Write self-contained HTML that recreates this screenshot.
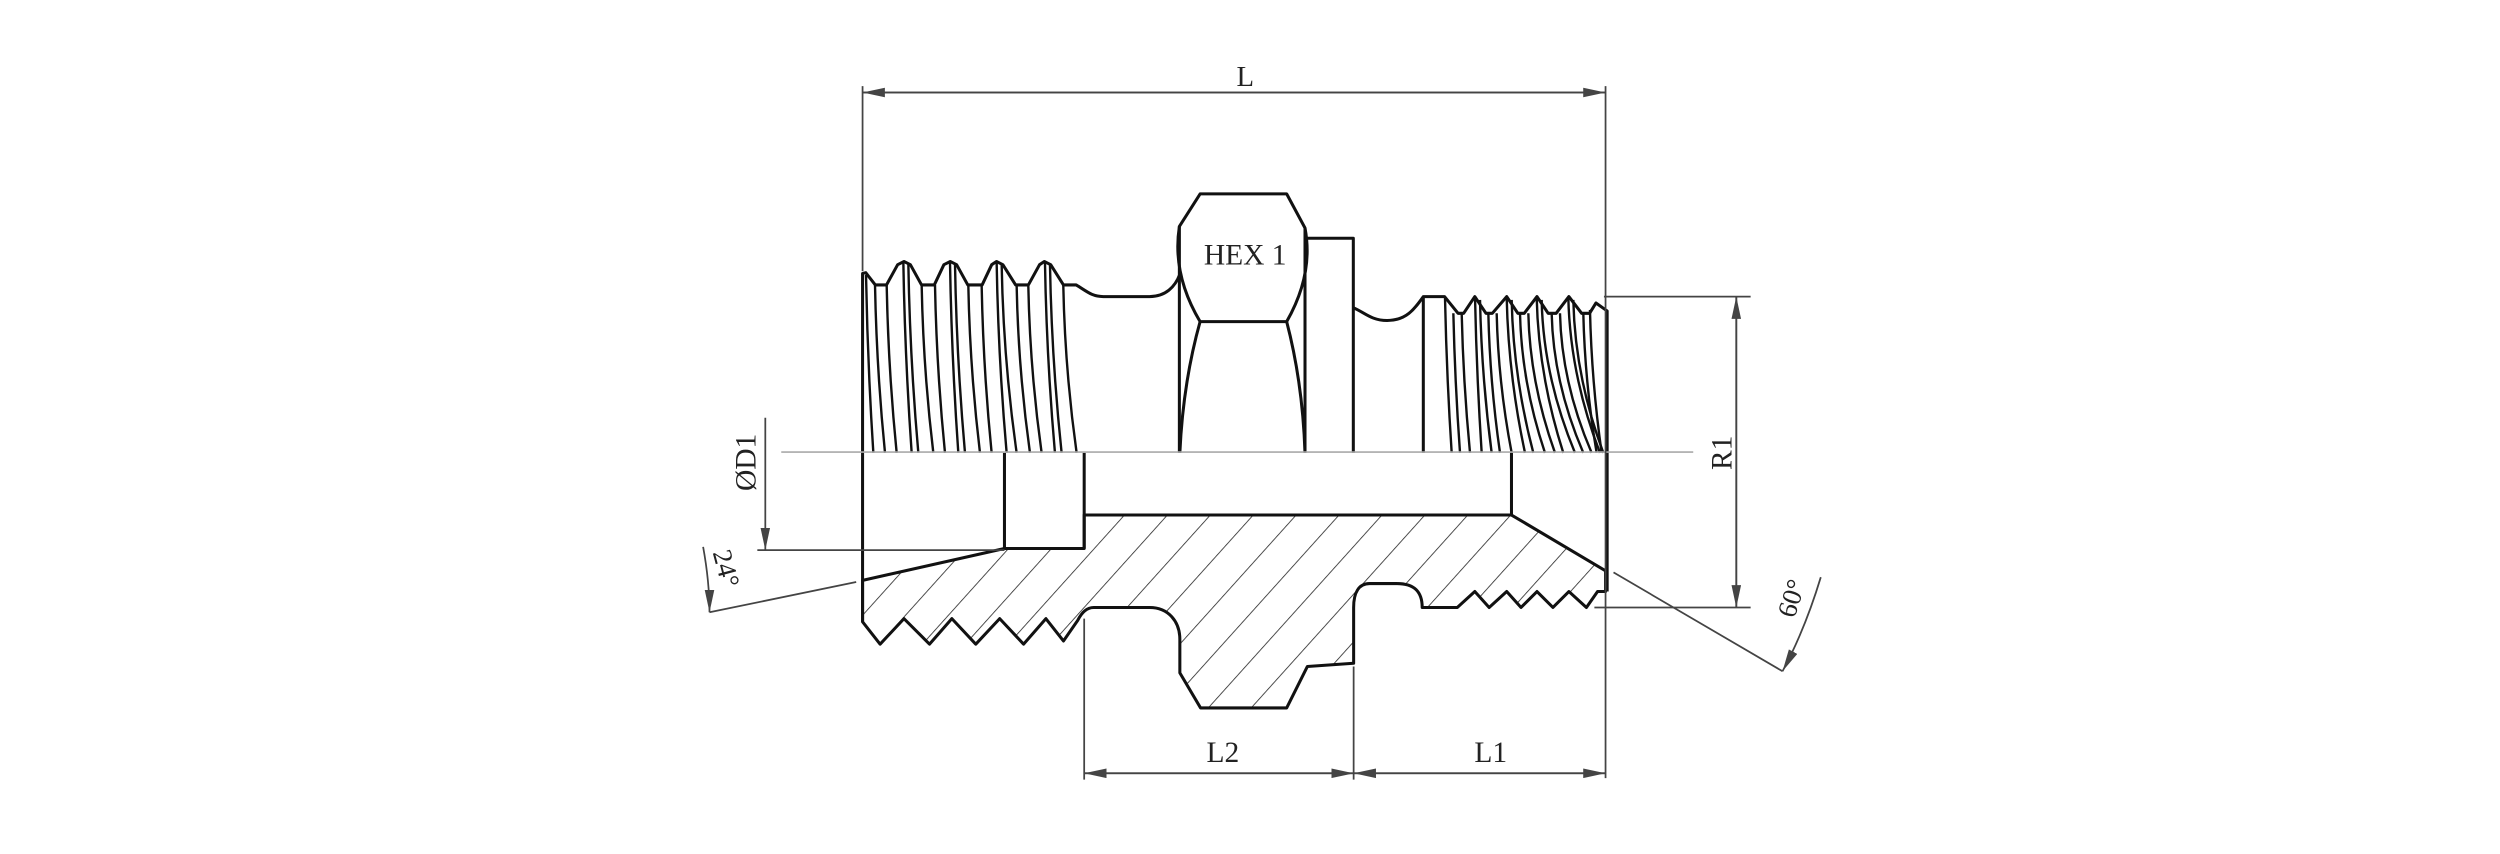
<!DOCTYPE html>
<html><head><meta charset="utf-8"><style>
html,body{margin:0;padding:0;background:#fff;}
svg{display:block;}
text{font-family:"Liberation Serif",serif;fill:#222;}
</style></head><body>
<svg id="s" width="2500" height="854" viewBox="0 0 1568 535.6" xmlns="http://www.w3.org/2000/svg">
<defs>
<pattern id="h" patternUnits="userSpaceOnUse" width="20" height="20" patternTransform="rotate(42)">
<line x1="0" y1="0" x2="0" y2="20" stroke="#222" stroke-width="1"/>
</pattern>
<clipPath id="hc"><path id="hp" d="M541,364 L630,344 L680,344 L680,323 L948,323 L1007,358 L1007,371 L1002,371 L995,381 L984,371 L974,381 L964,371 L954,381 L945,371 L934,381 L925,371 L914,381 L892,381 C892,370 886,366 876,366 L859,366 C852,366 849,372 849,381 L849,416 L820,418 L807,444 L753,444 L740,422 L740,401 C740,390 733,381 721,381 L686,381 C681,381 678,385 676,389 L667,402 L656,388 L642,404 L627,388 L612,404 L597,388 L583,404 L567,388 L552,404 L541,390 Z"/></clipPath>
<marker id="a" viewBox="0 0 14 6" refX="14" refY="3" markerWidth="14" markerHeight="6" markerUnits="userSpaceOnUse" orient="auto">
<path d="M0,0 L14,3 L0,6 Z" fill="#444"/></marker>
</defs>
<rect x="530" y="315" width="490" height="140" fill="url(#h)" clip-path="url(#hc)"/>
<g fill="none" stroke="#111" stroke-width="1.9" stroke-linejoin="round">
<use href="#hp"/>
<path d="M541,390 L541,171.5 L543,171 L549,178.7 L556,178.7 L563,166 L567,164 L571,166 L578,178.7 L586,178.7 L592,166 L596,164 L600,166 L607,178.7 L616,178.7 L622,166 L625,164 L629,166 L637,178.7 L645,178.7 L652,166 L655,164 L659,166 L667,178.7 L675,178.7 C682,183 685,186 692,186 L721,186 C731,186 737,180 740,172"/>
<path d="M752.7,201.7 Q735,172 739.7,142 L752.7,121.6 L807,121.6 L818.5,143 Q824,172 807,201.7 Z"/>
<path d="M739.7,142 L739.7,284 M818.5,143 L818.5,284"/>
<path d="M752.7,201.7 Q742,240 740,284 M807,201.7 Q817,240 818.5,284"/>
<path d="M818.5,149.4 L848.8,149.4 L848.8,284"/>
<path d="M848.8,193 C856,196 860,201 870,201 C882,201 887,194 892.7,186 L906,186 L914.5,196.5 L918,196.5 L925,186 L932,196.5 L936,196.5 L945,186 L952,196.5 L956,196.5 L964,186 L971,196.5 L976,196.5 L984,186 L992,196.5 L997,196.5 L1001,190 L1008,195 L1008,371"/>
<path d="M892.7,186 L892.7,284"/>
<path d="M630,284 L630,344 M680,284 L680,344 M948,284 L948,323"/>
</g>
<g id="tl" fill="none" stroke="#111" stroke-width="1.5"></g>
<line x1="490" y1="283.5" x2="1062" y2="283.5" stroke="#aaa" stroke-width="1"/>
<g stroke="#444" stroke-width="1.1" fill="none">
<line x1="541" y1="54" x2="541" y2="170"/>
<line x1="1007" y1="54" x2="1007" y2="488"/>
<line x1="1007" y1="58" x2="541" y2="58" marker-end="url(#a)"/>
<line x1="541" y1="58" x2="1007" y2="58" marker-end="url(#a)"/>
<line x1="680" y1="388" x2="680" y2="489"/>
<line x1="849" y1="418" x2="849" y2="489"/>
<line x1="680" y1="485" x2="849" y2="485" marker-end="url(#a)"/>
<line x1="849" y1="485" x2="680" y2="485" marker-end="url(#a)"/>
<line x1="849" y1="485" x2="1007" y2="485" marker-end="url(#a)"/>
<line x1="1007" y1="485" x2="849" y2="485" marker-end="url(#a)"/>
<line x1="1006" y1="186" x2="1098" y2="186"/>
<line x1="1000" y1="381" x2="1098" y2="381"/>
<line x1="1089" y1="381" x2="1089" y2="186" marker-end="url(#a)"/>
<line x1="1089" y1="186" x2="1089" y2="381" marker-end="url(#a)"/>
<line x1="475" y1="345" x2="630" y2="345"/>
<line x1="480" y1="262" x2="480" y2="345" marker-end="url(#a)"/>
<line x1="537" y1="365" x2="445" y2="384"/>
<path d="M441,343 Q445,365 445,384" marker-end="url(#a)"/>
<line x1="1012" y1="359" x2="1118" y2="421"/>
<path d="M1142,362 Q1132,395 1118,421" marker-end="url(#a)"/>
</g>
<text x="781" y="54" font-size="18" text-anchor="middle">L</text>
<text x="781" y="166" font-size="18.5" text-anchor="middle">HEX 1</text>
<text x="767" y="478" font-size="18.5" text-anchor="middle">L2</text>
<text x="935" y="478" font-size="18.5" text-anchor="middle">L1</text>
<text transform="translate(1086,284) rotate(-90)" font-size="18.5" text-anchor="middle">R1</text>
<text transform="translate(474,290) rotate(-90)" font-size="18.5" text-anchor="middle">ØD1</text>
<text transform="translate(450,358) rotate(75)" font-size="17" text-anchor="middle">24°</text>
<text transform="translate(1129,377) rotate(-72)" font-size="17" text-anchor="middle">60°</text>
</svg>
<script>
var g=document.getElementById('tl');
function ln(x1,y1,x2){var p=document.createElementNS('http://www.w3.org/2000/svg','path');
p.setAttribute('d','M'+x1+','+y1+' Q'+(x1+1)+','+((y1+284)/2)+' '+x2+',284');g.appendChild(p);}
var L=[[45,105,75],[80,105,110],[130,35,155],[145,40,175],[185,105,220],[225,105,255],[270,35,295],[285,40,315],[325,105,360],[365,105,395],[410,35,440],[425,40,470],[470,105,510],[505,105,545],[555,35,585],[570,40,605],[610,105,650],[18,75,40]];
L.forEach(function(t){ln(539.4+t[0]*0.209,156.8+t[1]*0.209,539.4+t[2]*0.209);});
var R=[[135,85,155],[160,130,180],[185,130,210],[225,80,245],[240,90,275],[265,130,300],[290,130,335],[320,80,375],[335,90,400],[360,130,435],[385,130,465],[410,80,490],[425,90,525],[455,130,550],[480,130,575],[505,80,600],[520,90,610],[550,130,590],[570,120,605]];
R.forEach(function(t){ln(878.1+t[0]*0.209,169.3+t[1]*0.209,878.1+t[2]*0.209);});
</script>
</body></html>
